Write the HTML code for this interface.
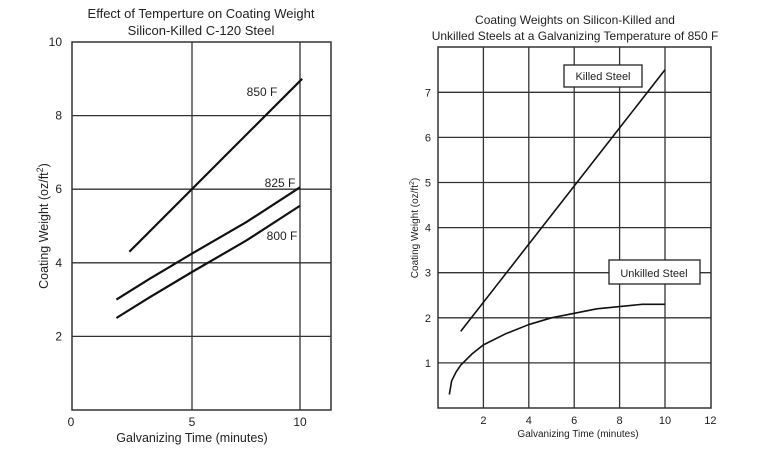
<!DOCTYPE html>
<html><head><meta charset="utf-8"><style>
body{margin:0;background:#fff}
svg{display:block;font-family:"Liberation Sans",sans-serif;fill:#222}
</style></head><body>
<svg id="s" width="775" height="452" viewBox="0 0 775 452">
<g id="L"></g>
<g id="R"></g>
</svg>
<script>
// Left chart data
const lX800=[1.5,3,5,7.5,10];
const lY800=[2.5,3.05,3.75,4.6,5.55];
const lX825=[1.5,3,5,7.5,10];
const lY825=[3.0,3.55,4.25,5.1,6.05];
const lX850=[2.1,10.1];
const lY850=[4.3,9.0];
const lXTicks=[0,5,10];
const lYTicks=[2,4,6,8,10];
// Right chart data
const rXKilled=[1,10];
const rYKilled=[1.7,7.5];
const rXUnk=[0.5,0.6,0.8,1,1.5,2,3,4,5,6,7,8,9,10];
const rYUnk=[0.3,0.6,0.8,0.95,1.2,1.4,1.65,1.85,2.0,2.1,2.2,2.25,2.3,2.3];
const rXTicks=[2,4,6,8,10,12];
const rYTicks=[1,2,3,4,5,6,7];

const NS="http://www.w3.org/2000/svg";
function mk(p,t,a,txt){const e=document.createElementNS(NS,t);for(const k in a)e.setAttribute(k,a[k]);if(txt!=null)e.textContent=txt;p.appendChild(e);return e;}

// LEFT
const L=document.getElementById('L');
const lx=v=>84+v*21.6, ly=v=>410-v*36.8;
let e;
e=mk(L,'rect',{x:72,y:42,width:259,height:368,fill:'none',stroke:'#333','stroke-width':1.5});

[2,4,6,8].forEach(v=>{e=mk(L,'line',{x1:72,x2:331,y1:ly(v),y2:ly(v),stroke:'#333','stroke-width':1.3});
});
[5,10].forEach(v=>{e=mk(L,'line',{x1:lx(v),x2:lx(v),y1:42,y2:410,stroke:'#333','stroke-width':1.3});
});
lXTicks.forEach(v=>{e=mk(L,'text',{x:lx(v)-(v===0?13:0),y:426,'text-anchor':'middle','font-size':12},v);
});
lYTicks.forEach(v=>{e=mk(L,'text',{x:62,y:ly(v)+4,'text-anchor':'end','font-size':12},v);
});
function poly(p,xs,ys,fx,fy,name,w){const pts=xs.map((x,i)=>fx(x)+','+fy(ys[i])).join(' ');
const el=mk(p,'polyline',{points:pts,fill:'none',stroke:'#111','stroke-width':w,'stroke-linejoin':'round'});
}
poly(L,lX850,lY850,lx,ly,'line-850f',2.2);
poly(L,lX825,lY825,lx,ly,'line-825f',2.2);
poly(L,lX800,lY800,lx,ly,'line-800f',2.2);
[['850 F',262,96],['825 F',280,187],['800 F',282,240]].forEach(a=>{e=mk(L,'text',{x:a[1],y:a[2],'text-anchor':'middle','font-size':12},a[0]);
});
e=mk(L,'text',{x:201,y:18,'text-anchor':'middle','font-size':13},'Effect of Temperture on Coating Weight');

e=mk(L,'text',{x:201,y:35,'text-anchor':'middle','font-size':13},'Silicon-Killed C-120 Steel');

e=mk(L,'text',{x:192,y:442,'text-anchor':'middle','font-size':12.5},'Galvanizing Time (minutes)');

e=mk(L,'text',{transform:'translate(48,226) rotate(-90)','text-anchor':'middle','font-size':12.5},'');
e.innerHTML='Coating Weight (oz/ft<tspan dy="-5" font-size="9">2</tspan><tspan dy="5">)</tspan>';


// RIGHT
const R=document.getElementById('R');
const rx=v=>438+v*22.7, ry=v=>408-v*45.1;
e=mk(R,'rect',{x:438,y:47,width:273,height:361,fill:'none',stroke:'#333','stroke-width':1.5});

rYTicks.forEach(v=>{e=mk(R,'line',{x1:438,x2:711,y1:ry(v),y2:ry(v),stroke:'#333','stroke-width':1.3});
});
rXTicks.slice(0,5).forEach(v=>{e=mk(R,'line',{x1:rx(v),x2:rx(v),y1:47,y2:408,stroke:'#333','stroke-width':1.3});
});
rXTicks.forEach(v=>{e=mk(R,'text',{x:rx(v),y:424,'text-anchor':'middle','font-size':11},v);
});
rYTicks.forEach(v=>{e=mk(R,'text',{x:431,y:ry(v)+4,'text-anchor':'end','font-size':11},v);
});
poly(R,rXKilled,rYKilled,rx,ry,'line-killed-steel',1.6);
poly(R,rXUnk,rYUnk,rx,ry,'line-unkilled-steel',1.6);
e=mk(R,'rect',{x:564,y:65,width:78,height:22,fill:'#fff',stroke:'#222','stroke-width':1.3});

e=mk(R,'text',{x:603,y:80,'text-anchor':'middle','font-size':11},'Killed Steel');

e=mk(R,'rect',{x:609,y:260,width:91,height:24,fill:'#fff',stroke:'#222','stroke-width':1.3});

e=mk(R,'text',{x:654,y:277,'text-anchor':'middle','font-size':11},'Unkilled Steel');

e=mk(R,'text',{x:575,y:24,'text-anchor':'middle','font-size':12},'Coating Weights on Silicon-Killed and');

e=mk(R,'text',{x:575,y:40,'text-anchor':'middle','font-size':12},'Unkilled Steels at a Galvanizing Temperature of 850 F');

e=mk(R,'text',{x:578,y:437,'text-anchor':'middle','font-size':10},'Galvanizing Time (minutes)');

e=mk(R,'text',{transform:'translate(418,228) rotate(-90)','text-anchor':'middle','font-size':10},'');
e.innerHTML='Coating Weight (oz/ft<tspan dy="-4" font-size="7">2</tspan><tspan dy="4">)</tspan>';

</script>
</body></html>
